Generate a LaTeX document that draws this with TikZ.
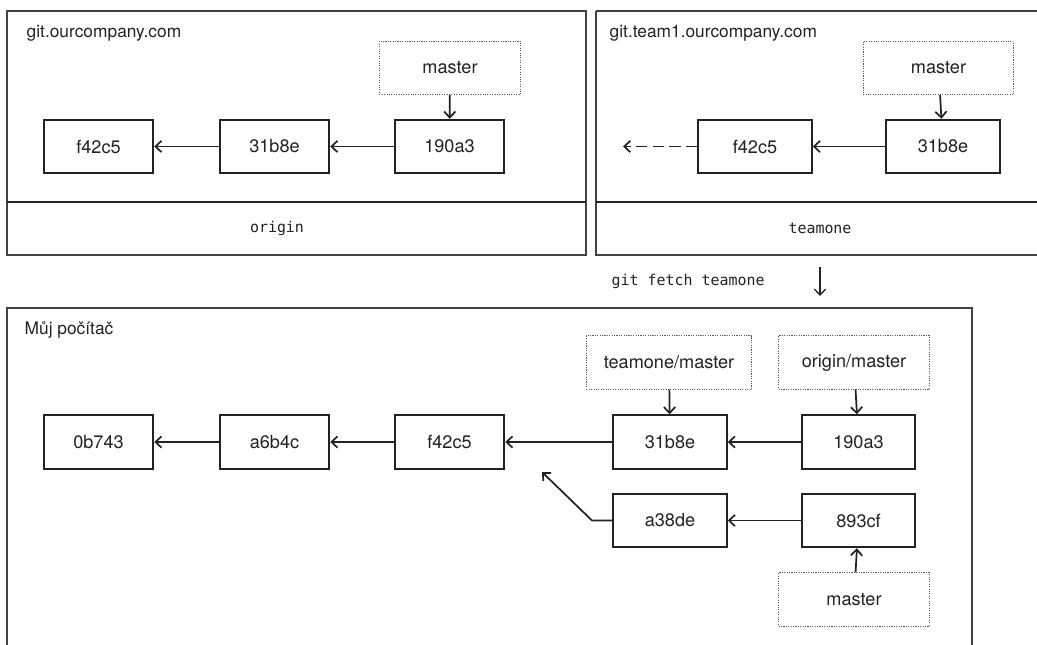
\documentclass[tikz,border=0pt]{standalone}
\usepackage{fontspec}
\setmainfont{TeX Gyre Heros}
\setmonofont{DejaVu Sans Mono}
\usetikzlibrary{arrows.meta,positioning,calc}
\definecolor{inkdark}{RGB}{34,34,34}
\definecolor{inkgray}{RGB}{90,90,90}

\begin{document}
\begin{tikzpicture}[x=0.75pt,y=-0.75pt,>={Straight Barb[length=4.5pt,width=8.5pt]},
 every node/.style={font=\fontsize{13}{15}\selectfont,text=inkdark},
 commit/.style={draw=inkdark,line width=1.6pt,minimum width=82pt,minimum height=40pt,inner sep=0pt,font=\fontsize{13.6}{15}\selectfont},
 ref/.style={draw=inkgray,densely dotted,line width=0.8pt,minimum width=113pt,minimum height=40pt,inner sep=0pt,font=\fontsize{13.6}{15}\selectfont},
 link/.style={->,draw=inkdark,line width=1.3pt},
 frame/.style={draw=inkdark!85,line width=1pt},
 remote/.style={font=\ttfamily\fontsize{11.2}{13}\selectfont}]
\useasboundingbox (0,0) rectangle (1037,644);
\clip (0,0) rectangle (1037,644);
% git.ourcompany.com
\draw[frame] (7,11) rectangle (586,255);
\draw[inkdark,line width=2pt] (7,202)--(586,202);
\node[anchor=west] (hostA) at (22,33) {git.ourcompany.com};
\node[remote] (origin) at (277,228) {origin};
\node[commit] (aF) at (98.5,146.5) {f42c5};
\node[commit] (aB) at (274.5,146.5) {31b8e};
\node[commit] (aC) at (449.5,146.5) {190a3};
\node[ref,minimum width=106pt] (aM) at (450,68) {master};
\draw[link] (aC)--(aB); \draw[link] (aB)--(aF); \draw[link] (aM)--(aC);
% git.team1.ourcompany.com
\draw[frame] (596,11)--(1045,11) (596,11)--(596,255)--(1045,255);
\draw[inkdark,line width=2pt] (596,202)--(1045,202);
\node[anchor=west] (hostB) at (605,33) {git.team1.ourcompany.com};
\node[remote] (teamone) at (820,228) {teamone};
\node[commit,minimum width=85pt] (bF) at (755,146.5) {f42c5};
\node[commit,minimum width=85pt] (bB) at (943,146.5) {31b8e};
\node[ref] (bM) at (938.5,68) {master};
\coordinate (bOlder) at (623,146.5);
\draw[link] (bB)--(bF); \draw[link,dash pattern=on 8.5pt off 4pt] (bF)--(bOlder);
\draw[link] (bM)--(bB);
% git fetch teamone
\node[remote,anchor=west] (fetch) at (607,281) {git fetch teamone};
\coordinate (fetchTop) at (820,267); \coordinate (fetchEnd) at (820,296);
\draw[->,inkdark,line width=1pt] (fetchTop)--(fetchEnd);
% Muj pocitac
\draw[frame] (7,650)--(7,308)--(972,308)--(972,650);
\node[anchor=west] (local) at (20,330) {Můj počítač};
\node[commit] (c0) at (98.5,442) {0b743};
\node[commit] (c1) at (274.5,442) {a6b4c};
\node[commit] (cF) at (449.5,442) {f42c5};
\node[commit,minimum width=85pt] (cB) at (670,442) {31b8e};
\node[commit,minimum width=85pt] (cC) at (858.5,442) {190a3};
\node[commit,minimum width=85pt] (cA) at (670,520.5) {a38de};
\node[commit,minimum width=85pt] (cD) at (858.5,520.5) {893cf};
\node[ref,minimum width=124pt] (cTM) at (669,362.5) {teamone/master};
\node[ref] (cOM) at (854,362.5) {origin/master};
\node[ref] (cM) at (854,599.5) {master};
\draw[link] (c1)--(c0); \draw[link] (cF)--(c1); \draw[link] (cB)--(cF); \draw[link] (cC)--(cB);
\draw[link] (cD)--(cA); \draw[link] (cTM)--(cB); \draw[link] (cOM)--(cC);
\draw[link] (cM)--(cD);
\coordinate (bend) at (592,520.5); \coordinate (cFtip) at (542,472);
\draw[link] (cA.west)--(bend)--(cFtip);
\end{tikzpicture}
\end{document}
